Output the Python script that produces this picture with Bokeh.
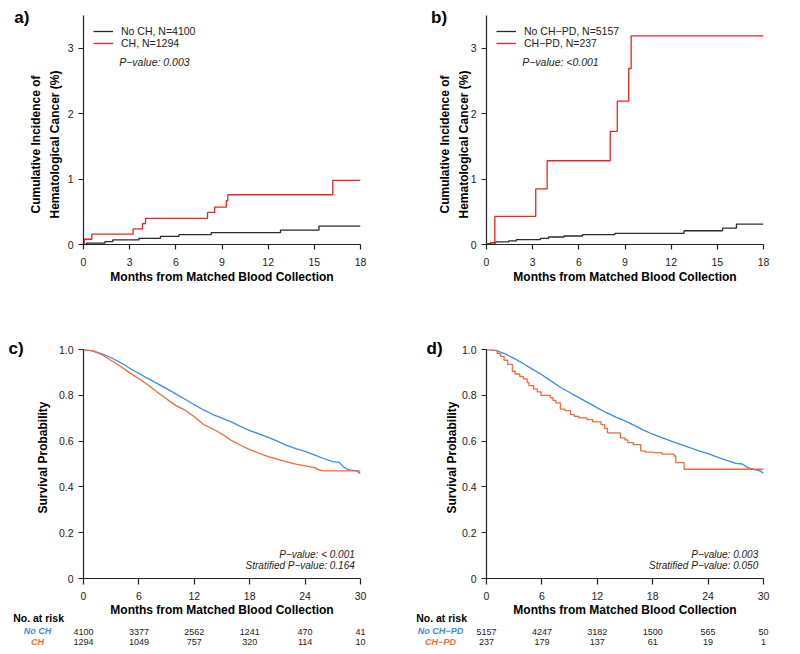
import math
from bokeh.plotting import figure
from bokeh.models import (FixedTicker, Label, Legend, LegendItem, Range1d, LinearAxis)
from bokeh.layouts import gridplot
from bokeh.embed import file_html
from bokeh.resources import INLINE

FONT = "Liberation Sans"
INK = "#222222"
BLACK_LINE = "#2b2b2b"
RED = "#EE2222"
BLUE = "#3B8BEB"
ORANGE = "#F4693A"

# ---------------- data ----------------
# a) Cumulative incidence, CH vs No CH (months, %)
a_noch_t = [0, 0.2, 1.4, 1.9, 3.6, 5.0, 6.2, 8.3, 12.8, 15.3, 18]
a_noch_y = [0, 0.02, 0.045, 0.07, 0.095, 0.125, 0.15, 0.18, 0.22, 0.28, 0.28]
a_ch_t = [0, 0.05, 0.54, 3.23, 3.83, 4.03, 8.06, 8.52, 9.28, 9.38, 16.2, 18]
a_ch_y = [0, 0.08, 0.16, 0.24, 0.32, 0.40, 0.49, 0.57, 0.67, 0.76, 0.98, 0.98]
a_labels = ["No CH, N=4100", "CH, N=1294"]
a_p = "P\u2212value: 0.003"

# b) Cumulative incidence, CH-PD vs No CH-PD
b_noch_t = [0, 0.05, 0.24, 0.6, 1.44, 1.94, 3.5, 4.04, 5.04, 6.24, 8.34, 12.84, 15.34, 16.24, 18]
b_noch_y = [0, 0.01, 0.025, 0.04, 0.055, 0.075, 0.095, 0.115, 0.13, 0.15, 0.17, 0.21, 0.25, 0.31, 0.31]
b_ch_t = [0, 0.54, 3.2, 3.94, 8.04, 8.5, 9.24, 9.4, 18]
b_ch_y = [0, 0.43, 0.85, 1.28, 1.73, 2.19, 2.69, 3.19, 3.19]
b_labels = ["No CH\u2212PD, N=5157", "CH\u2212PD, N=237"]
b_p = "P\u2212value: <0.001"

# c) Survival, CH vs No CH
c_noch_t = [0, 1, 2, 3, 4, 5, 6, 7, 8, 9, 10, 11, 12, 13, 14, 15, 16, 17, 18, 19, 20,
            21, 22, 23, 24, 25, 26, 27, 27.7, 28.2, 28.6, 29, 29.6, 30]
c_noch_s = [1.0, 0.994, 0.981, 0.964, 0.943, 0.918, 0.895, 0.873, 0.851, 0.829, 0.806,
            0.783, 0.759, 0.736, 0.716, 0.700, 0.684, 0.664, 0.646, 0.632, 0.616, 0.600,
            0.581, 0.567, 0.555, 0.540, 0.524, 0.510, 0.507, 0.485, 0.477, 0.473, 0.470, 0.458]
c_ch_t = [0, 1, 2, 3, 4, 5, 6, 7, 8, 9, 10, 11, 12, 13, 14, 15, 16, 17, 18, 19, 20,
          21, 22, 23, 24, 25, 25.5, 26, 30]
c_ch_s = [1.0, 0.994, 0.977, 0.952, 0.927, 0.898, 0.872, 0.845, 0.813, 0.784, 0.755,
          0.735, 0.706, 0.672, 0.653, 0.631, 0.603, 0.582, 0.563, 0.547, 0.532, 0.521,
          0.509, 0.499, 0.492, 0.484, 0.474, 0.470, 0.470]
c_p = ["P\u2212value: < 0.001", "Stratified P\u2212value: 0.164"]
c_groups = ["No CH", "CH"]
risk_times = [0, 6, 12, 18, 24, 30]
c_risk_noch = ["4100", "3377", "2562", "1241", "470", "41"]
c_risk_ch = ["1294", "1049", "757", "320", "114", "10"]

# d) Survival, CH-PD vs No CH-PD
d_noch_t = [0, 1, 2, 3, 4, 5, 6, 7, 8, 9, 10, 11, 12, 13, 14, 15, 16, 17, 18, 19, 20,
            21, 22, 23, 24, 25, 26, 27, 27.7, 28.3, 29, 29.6, 30]
d_noch_s = [1.0, 0.996, 0.981, 0.961, 0.938, 0.913, 0.890, 0.862, 0.835, 0.812, 0.790,
            0.768, 0.745, 0.724, 0.705, 0.688, 0.669, 0.648, 0.630, 0.615, 0.600, 0.586,
            0.572, 0.557, 0.545, 0.530, 0.516, 0.503, 0.500, 0.484, 0.477, 0.470, 0.460]
d_ch_t = [0, 0.8, 1.15, 1.5, 1.9, 2.3, 2.8, 3.1, 3.6, 4.0, 4.4, 4.6, 5.1, 5.5, 5.9, 6.9,
          7.2, 7.5, 8.0, 8.5, 9.1, 9.5, 10.0, 10.9, 11.5, 12.4, 12.8, 13.1, 14.5, 15.0,
          15.3, 15.9, 16.7, 17.2, 18.1, 19.0, 20.3, 20.5, 21.4, 30]
d_ch_s = [1.0, 0.996, 0.983, 0.970, 0.953, 0.935, 0.905, 0.893, 0.882, 0.872, 0.855,
          0.842, 0.828, 0.815, 0.800, 0.790, 0.778, 0.767, 0.740, 0.733, 0.716, 0.708,
          0.701, 0.694, 0.684, 0.672, 0.655, 0.636, 0.614, 0.605, 0.593, 0.585, 0.557,
          0.552, 0.550, 0.543, 0.535, 0.506, 0.477, 0.477]
d_p = ["P\u2212value: 0.003", "Stratified P\u2212value: 0.050"]
d_groups = ["No CH\u2212PD", "CH\u2212PD"]
d_risk_noch = ["5157", "4247", "3182", "1500", "565", "50"]
d_risk_ch = ["237", "179", "137", "61", "19", "1"]

XLABEL = "Months from Matched Blood Collection"
YLABEL_CI = "Cumulative Incidence of\nHematological Cancer (%)"
YLABEL_S = "Survival Probability"


# ---------------- layout helpers ----------------
class Geo:
    def __init__(self, page_x0, page_y0, width, height, left, right, top, bottom, xr, yr):
        self.page_x0, self.page_y0 = page_x0, page_y0
        self.width, self.height = width, height
        self.left, self.right, self.top, self.bottom = left, right, top, bottom
        self.fw = width - left - right
        self.fh = height - top - bottom
        self.xr, self.yr = xr, yr

    def to_data(self, px, py):
        fx0 = self.page_x0 + self.left
        fyb = self.page_y0 + self.top + self.fh
        x = self.xr[0] + (px - fx0) / self.fw * (self.xr[1] - self.xr[0])
        y = self.yr[0] + (fyb - py) / self.fh * (self.yr[1] - self.yr[0])
        return x, y


def make_fig(g, xticks, yticks, tick_out, x_standoff, ylabel_overrides=None):
    p = figure(width=g.width, height=g.height,
               x_range=Range1d(*g.xr), y_range=Range1d(*g.yr),
               output_backend="svg", toolbar_location=None, tools="",
               min_border_left=g.left, min_border_right=g.right,
               min_border_top=g.top, min_border_bottom=g.bottom)
    p.outline_line_color = None
    p.xgrid.visible = False
    p.ygrid.visible = False
    p.background_fill_color = "white"
    p.border_fill_color = "white"
    for ax in (p.xaxis[0], p.yaxis[0]):
        ax.axis_line_color = INK
        ax.axis_line_width = 1.2
        ax.major_tick_line_color = INK
        ax.major_tick_line_width = 1.2
        ax.minor_tick_line_color = None
        ax.major_tick_in = 0
        ax.major_label_text_font = FONT
        ax.major_label_text_font_size = "10.5px"
        ax.major_label_text_color = INK
        ax.axis_label_text_font = FONT
        ax.axis_label_text_font_style = "bold"
        ax.axis_label_text_font_size = "12px"
        ax.axis_label_text_color = "black"
    p.xaxis[0].ticker = FixedTicker(ticks=xticks)
    p.yaxis[0].ticker = FixedTicker(ticks=yticks)
    p.xaxis[0].major_tick_out = tick_out
    p.yaxis[0].major_tick_out = 5
    p.xaxis[0].major_label_standoff = x_standoff
    p.yaxis[0].major_label_standoff = 5
    p.xaxis[0].axis_label = XLABEL
    p.xaxis[0].axis_label_standoff = 1
    if ylabel_overrides:
        p.yaxis[0].major_label_overrides = ylabel_overrides
    return p


def add_text(p, g, px, py, text, size, style="normal", color=INK, align="left",
             baseline="middle", place="center", angle=0.0, line_height=1.2):
    x, y = g.to_data(px, py)
    lab = Label(x=x, y=y, text=text, text_font=FONT, text_font_size=size,
                text_font_style=style, text_color=color, text_align=align,
                text_baseline=baseline, angle=angle, text_line_height=line_height)
    p.add_layout(lab, place)


def incidence_panel(g, letter, t0, y0, t1, y1, labels, ptext, letter_px, ylab_px):
    p = make_fig(g, [0, 3, 6, 9, 12, 15, 18], [0, 1, 2, 3], 5, 8)
    r0 = p.step(t0, y0, mode="after", line_color=BLACK_LINE, line_width=1.3)
    r1 = p.step(t1, y1, mode="after", line_color=RED, line_width=1.3)
    leg = Legend(items=[LegendItem(label=labels[0], renderers=[r0]),
                        LegendItem(label=labels[1], renderers=[r1])],
                 location="top_left", margin=0, padding=10, spacing=0,
                 glyph_width=20, glyph_height=12, label_height=12, label_standoff=8,
                 label_text_font=FONT, label_text_font_size="10.5px",
                 label_text_color=INK, background_fill_alpha=0, border_line_alpha=0)
    p.add_layout(leg, "center")
    add_text(p, g, g.page_x0 + g.left + 38.7, 61.7, ptext, "10.5px", style="italic")
    add_text(p, g, ylab_px, 144, YLABEL_CI, "12px", style="bold", color="black",
             align="center", place="left", angle=math.pi / 2, line_height=1.38)
    add_text(p, g, letter_px, 17, letter, "17px", style="bold", color="black",
             place="left")
    return p


def risk_axis(p, counts, standoff, color):
    ax = LinearAxis(ticker=FixedTicker(ticks=risk_times),
                    major_label_overrides={t: c for t, c in zip(risk_times, counts)})
    ax.axis_line_color = None
    ax.major_tick_line_color = None
    ax.minor_tick_line_color = None
    ax.major_tick_out = 0
    ax.major_tick_in = 0
    ax.major_label_standoff = standoff
    ax.major_label_text_font = FONT
    ax.major_label_text_font_size = "9px"
    ax.major_label_text_color = color
    p.add_layout(ax, "below")


def survival_panel(g, letter, t0, s0, t1, s1, ptexts, groups, risk0, risk1,
                   letter_px, ylab_px, p_right_px, atrisk_px, group_px, step_ch):
    p = make_fig(g, risk_times, [0, 0.2, 0.4, 0.6, 0.8, 1.0], 6, 7,
                 ylabel_overrides={1: "1.0"})
    p.xaxis[0].axis_label_standoff = 0
    p.line(t0, s0, line_color=BLUE, line_width=1.3)
    if step_ch:
        p.step(t1, s1, mode="after", line_color=ORANGE, line_width=1.3)
    else:
        p.line(t1, s1, line_color=ORANGE, line_width=1.3)
    add_text(p, g, p_right_px, 554, ptexts[0], "10px", style="italic", align="right")
    add_text(p, g, p_right_px, 565.3, ptexts[1], "10px", style="italic", align="right")
    risk_axis(p, risk0, 9, INK)
    risk_axis(p, risk1, 1, INK)
    add_text(p, g, ylab_px, 457, YLABEL_S, "12px", style="bold", color="black",
             align="center", place="left", angle=math.pi / 2)
    add_text(p, g, letter_px, 348, letter, "17px", style="bold", color="black",
             place="left")
    add_text(p, g, atrisk_px, 617.3, "No. at risk", "10.5px", style="bold",
             color="black", place="above")
    add_text(p, g, group_px, 630, groups[0], "9px", style="bold italic", color=BLUE,
             align="center", place="above")
    add_text(p, g, group_px, 641.3, groups[1], "9px", style="bold italic", color=ORANGE,
             align="center", place="above")
    return p


ga = Geo(0, 0, 400, 290, 83, 17, 15, 46, (0, 18), (0, 3.5))
gb = Geo(400, 0, 400, 290, 86, 14, 15, 46, (0, 18), (0, 3.5))
gc = Geo(0, 290, 400, 364, 83, 40, 59, 76, (0, 30), (0, 1.0))
gd = Geo(400, 290, 400, 364, 86, 37, 59, 76, (0, 30), (0, 1.0))

pa = incidence_panel(ga, "a)", a_noch_t, a_noch_y, a_ch_t, a_ch_y, a_labels, a_p, 8, 41.5)
pb = incidence_panel(gb, "b)", b_noch_t, b_noch_y, b_ch_t, b_ch_y, b_labels, b_p, 426, 451)
pc = survival_panel(gc, "c)", c_noch_t, c_noch_s, c_ch_t, c_ch_s, c_p, c_groups,
                    c_risk_noch, c_risk_ch, 8, 42.7, 354.3, 12.7, 37, False)
pd = survival_panel(gd, "d)", d_noch_t, d_noch_s, d_ch_t, d_ch_s, d_p, d_groups,
                    d_risk_noch, d_risk_ch, 426, 451.7, 757.7, 415.7, 440, True)

grid = gridplot([[pa, pb], [pc, pd]], toolbar_location=None)

with open("out.html", "w") as f:
    f.write(file_html(grid, INLINE))
